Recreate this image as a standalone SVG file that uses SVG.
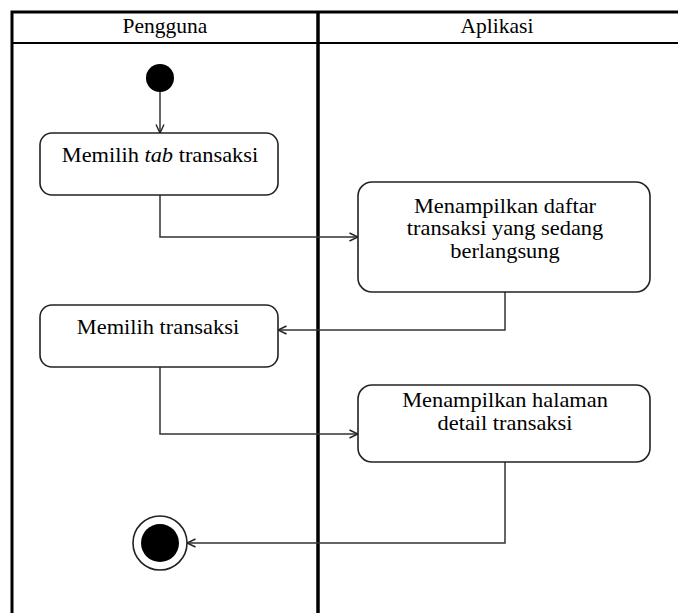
<svg xmlns="http://www.w3.org/2000/svg" width="678" height="613" viewBox="0 0 678 613">
  <style>
    .lane { fill: none; stroke: #000; stroke-width: 3; }
    .act { fill: #fff; stroke: #222; stroke-width: 1.6; }
    .lbl { font-family: "Liberation Serif", "Times New Roman", serif; font-size: 20px; fill: #000; text-anchor: middle; }
    .hdr { font-size: 21.5px; }
    .flow { fill: none; stroke: #333; stroke-width: 1.5; marker-end: url(#open); }
  </style>
  <defs>
    <marker id="open" viewBox="0 0 10 10" refX="9.5" refY="5" markerWidth="10" markerHeight="10" markerUnits="userSpaceOnUse" orient="auto">
      <path d="M1,1 L9.5,5 L1,9" fill="none" stroke="#222" stroke-width="1.4"/>
    </marker>
  </defs>

  <rect width="678" height="613" fill="#fff"/>

  <!-- swimlanes -->
  <g id="lanes">
    <path class="lane" d="M12,613 V12 H678"/>
    <line x1="318" y1="12" x2="318" y2="613" stroke="#000" stroke-width="3.5"/>
    <line x1="12" y1="43" x2="678" y2="43" stroke="#000" stroke-width="2"/>
    <text class="lbl hdr" x="165" y="33">Pengguna</text>
    <text class="lbl hdr" x="497" y="33">Aplikasi</text>
  </g>

  <!-- connectors -->
  <g id="connectors">
    <path class="flow" d="M160,92 V133"/>
    <path class="flow" d="M160,195 V237 H358"/>
    <path class="flow" d="M505,292 V330 H278"/>
    <path class="flow" d="M160,367 V434 H358"/>
    <path class="flow" d="M505,462 V543 H187"/>
  </g>

  <g id="start">
    <circle cx="160" cy="78" r="14" fill="#000"/>
  </g>

  <!-- activity labels are set slightly wide: scaled 1.12 horizontally about their centre -->
  <g id="pilih-tab">
    <rect class="act" x="40" y="133" width="238" height="62" rx="12"/>
    <text class="lbl" transform="translate(160,0) scale(1.12,1)" x="0" y="162">Memilih <tspan font-style="italic">tab</tspan> transaksi</text>
  </g>

  <g id="daftar-transaksi">
    <rect class="act" x="358" y="182" width="292" height="110" rx="14"/>
    <g transform="translate(505,0) scale(1.12,1)">
      <text class="lbl" x="0" y="213">Menampilkan daftar</text>
      <text class="lbl" x="0" y="235.5">transaksi yang sedang</text>
      <text class="lbl" x="0" y="258">berlangsung</text>
    </g>
  </g>

  <g id="pilih-transaksi">
    <rect class="act" x="40" y="305" width="238" height="62" rx="12"/>
    <text class="lbl" transform="translate(158,0) scale(1.12,1)" x="0" y="334">Memilih transaksi</text>
  </g>

  <g id="detail-transaksi">
    <rect class="act" x="358" y="385" width="292" height="77" rx="14"/>
    <g transform="translate(505,0) scale(1.12,1)">
      <text class="lbl" x="0" y="407">Menampilkan halaman</text>
      <text class="lbl" x="0" y="430">detail transaksi</text>
    </g>
  </g>

  <g id="end">
    <circle cx="160" cy="543" r="27" fill="#fff" stroke="#222" stroke-width="1.6"/>
    <circle cx="160" cy="543" r="19" fill="#000"/>
  </g>
</svg>
